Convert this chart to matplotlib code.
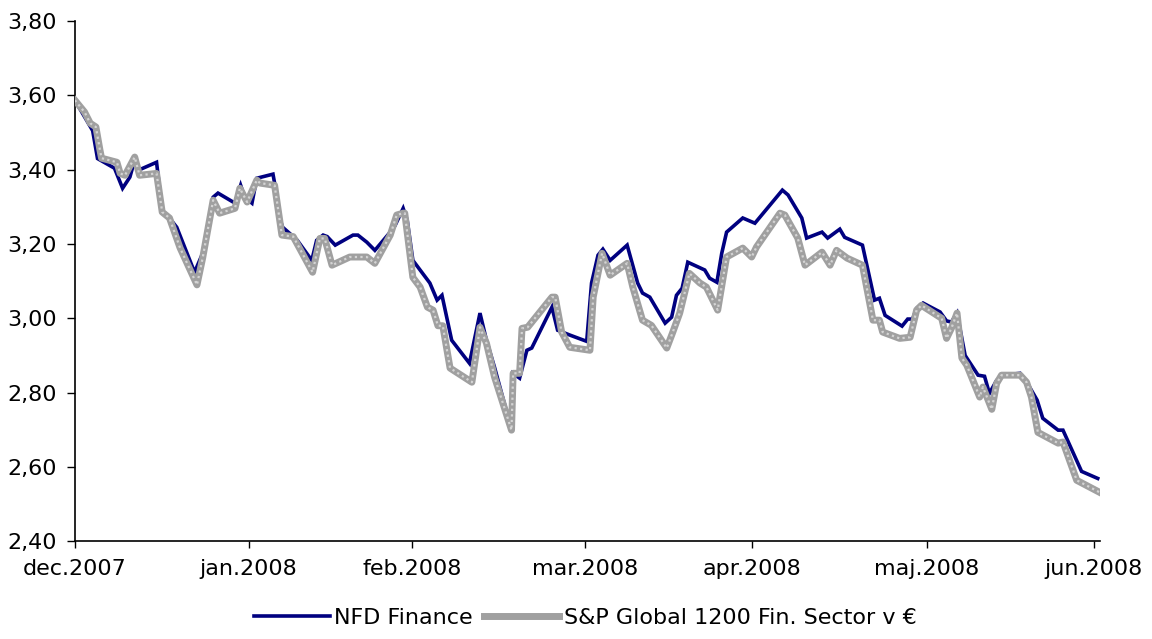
import matplotlib.pyplot as plt
from matplotlib.ticker import FuncFormatter

# x is measured in trading days from 1 Dec 2007
month_pos = [0, 21.5, 41.7, 63.1, 83.7, 105.4, 126.0]
month_labels = ["dec.2007", "jan.2008", "feb.2008", "mar.2008", "apr.2008", "maj.2008", "jun.2008"]

nfd_day = [0, 2.2, 2.8, 4.9, 5.9, 6.8, 7.4, 8.0, 10.1, 10.8, 11.7, 12.6, 14.8, 16.1, 17.1, 17.7,
           19.8, 20.5, 21.0, 21.9, 22.5, 24.5, 24.7, 25.1, 25.7, 26.8, 27.5, 29.3, 29.9, 30.7,
           31.2, 32.2, 34.4, 35.0, 36.1, 37.1, 39.0, 39.6, 40.6, 41.1, 41.8, 43.9, 44.8, 45.4,
           46.6, 48.8, 50.1, 50.9, 51.9, 54.0, 54.2, 55.0, 55.9, 56.5, 59.0, 59.7, 61.2, 63.3,
           63.9, 64.7, 65.3, 66.2, 68.3, 69.6, 70.2, 71.1, 73.0, 73.8, 74.4, 75.1, 75.8, 77.9,
           78.5, 79.4, 80.0, 80.6, 82.6, 84.1, 87.5, 88.2, 89.9, 90.5, 92.4, 93.1, 94.6, 95.2,
           97.4, 98.9, 99.5, 100.2, 102.3, 103.0, 103.6, 104.1, 104.9, 107.0, 107.8, 108.4,
           109.1, 110.1, 111.7, 112.5, 113.1, 114.0, 114.8, 116.9, 117.8, 119.0, 119.7, 121.6,
           122.2, 124.5, 126.5]
nfd_val = [3.587, 3.505, 3.43, 3.404, 3.35, 3.38, 3.426, 3.40, 3.42, 3.29, 3.27, 3.245, 3.124,
           3.19, 3.326, 3.337, 3.31, 3.358, 3.326, 3.31, 3.377, 3.388, 3.364, 3.283, 3.245,
           3.224, 3.21, 3.156, 3.21, 3.224, 3.22, 3.197, 3.224, 3.224, 3.205, 3.183, 3.232,
           3.25, 3.296, 3.264, 3.156, 3.095, 3.049, 3.062, 2.941, 2.879, 3.014, 2.941, 2.868,
           2.70, 2.852, 2.839, 2.914, 2.92, 3.03, 2.968, 2.955, 2.938, 3.095, 3.17, 3.186,
           3.156, 3.197, 3.095, 3.068, 3.057, 2.987, 3.003, 3.062, 3.081, 3.151, 3.13, 3.108,
           3.097, 3.175, 3.232, 3.27, 3.256, 3.345, 3.332, 3.27, 3.216, 3.232, 3.216, 3.24,
           3.218, 3.197, 3.049, 3.054, 3.008, 2.979, 2.998, 2.998, 3.027, 3.041, 3.017, 2.993,
           2.99, 3.014, 2.90, 2.847, 2.844, 2.798, 2.833, 2.847, 2.852, 2.825, 2.78, 2.731,
           2.699, 2.699, 2.588, 2.569]

sp_day = [0, 1.2, 1.9, 2.6, 3.1, 3.3, 5.2, 5.6, 6.2, 7.4, 8.0, 10.1, 10.8, 11.7, 13.0, 15.1,
          15.8, 17.1, 17.9, 19.8, 20.4, 21.3, 22.5, 22.9, 24.7, 25.6, 27.0, 29.4, 30.3, 30.9,
          31.8, 34.0, 36.1, 37.1, 39.0, 39.8, 40.6, 40.8, 41.8, 42.7, 43.6, 44.3, 44.9, 45.5,
          46.4, 49.1, 50.1, 50.9, 51.9, 54.0, 54.2, 55.0, 55.3, 56.0, 59.0, 59.4, 60.2, 61.2,
          63.7, 64.1, 65.2, 66.2, 68.3, 69.0, 70.2, 71.3, 73.2, 73.9, 74.8, 76.0, 77.3, 78.1,
          79.5, 80.6, 82.6, 83.7, 84.3, 87.2, 87.8, 89.4, 90.3, 92.4, 93.4, 94.2, 95.5, 97.4,
          98.7, 99.5, 99.9, 102.0, 103.3, 104.1, 104.7, 107.2, 107.8, 108.4, 109.1, 109.7,
          110.3, 111.9, 112.3, 113.4, 114.0, 114.6, 116.9, 117.7, 118.3, 119.1, 121.6, 122.2,
          123.9, 126.7]
sp_val = [3.587, 3.555, 3.525, 3.515, 3.453, 3.431, 3.42, 3.39, 3.385, 3.434, 3.385, 3.39,
          3.286, 3.27, 3.19, 3.09, 3.162, 3.318, 3.283, 3.296, 3.35, 3.313, 3.372, 3.364,
          3.358, 3.224, 3.22, 3.124, 3.215, 3.215, 3.143, 3.165, 3.165, 3.148, 3.224, 3.278,
          3.283, 3.283, 3.11, 3.084, 3.03, 3.022, 2.98, 2.98, 2.866, 2.828, 2.976, 2.933,
          2.842, 2.699, 2.852, 2.852, 2.973, 2.976, 3.057, 3.057, 2.963, 2.922, 2.914, 3.057,
          3.175, 3.116, 3.148, 3.084, 2.995, 2.981, 2.92, 2.96, 3.014, 3.121, 3.095, 3.084,
          3.022, 3.165, 3.189, 3.165, 3.192, 3.283, 3.278, 3.216, 3.143, 3.178, 3.143, 3.183,
          3.162, 3.143, 2.995, 2.995, 2.963, 2.946, 2.949, 3.022, 3.035, 3.0, 2.946, 2.973,
          3.014, 2.893, 2.874, 2.788, 2.815, 2.755, 2.825, 2.847, 2.847, 2.828, 2.788, 2.693,
          2.664, 2.667, 2.564, 2.532]

plt.rcParams["font.family"] = ["DejaVu Sans"]
plt.rcParams["font.size"] = 16

fig = plt.figure(figsize=(11.52, 6.39), dpi=100)
ax = fig.add_axes([0.065, 0.153, 0.89, 0.814])

ax.plot(nfd_day, nfd_val, color="#000080", lw=2.6, solid_joinstyle="miter", label="NFD Finance", zorder=3)
# textured grey line: grey base with a light dotted overlay
ax.plot(sp_day, sp_val, color="#a0a0a0", lw=5.0, label="S&P Global 1200 Fin. Sector v €", zorder=4)
ax.plot(sp_day, sp_val, color="#d4d4d4", lw=1.6, ls=(0, (1, 1.5)), zorder=5)

ax.set_ylim(2.40, 3.80)
ax.set_yticks([2.40, 2.60, 2.80, 3.00, 3.20, 3.40, 3.60, 3.80])
ax.yaxis.set_major_formatter(FuncFormatter(lambda v, p: f"{v:.2f}".replace(".", ",")))
ax.set_xlim(0, 126.8)
ax.set_xticks(month_pos)
ax.set_xticklabels(month_labels)

for s in ["top", "right"]:
    ax.spines[s].set_visible(False)
for s in ["left", "bottom"]:
    ax.spines[s].set_linewidth(1.2)
ax.tick_params(axis="y", direction="out", length=6, width=1, pad=7)
ax.tick_params(axis="x", direction="out", length=5, width=1, pad=8)

fig.legend(loc="lower center", bbox_to_anchor=(0.508, -0.014), ncol=2, frameon=False,
           handlelength=3.4, handletextpad=0.2, columnspacing=0.5, fontsize=16)

fig.savefig("out.png", dpi=100)
